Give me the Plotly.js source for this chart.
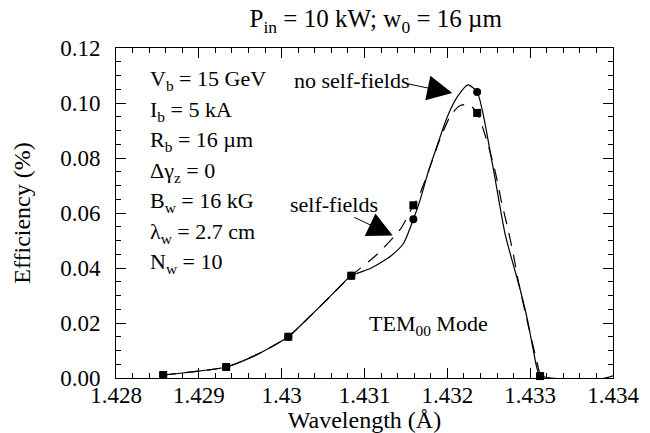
<!DOCTYPE html>
<html>
<head>
<meta charset="utf-8">
<script src="https://cdn.plot.ly/plotly-3.0.1.min.js"></script>
<style>
  html, body { margin: 0; padding: 0; background: #fff; }
  #chart { width: 650px; height: 433px; }
</style>
</head>
<body>
<div id="chart"></div>
<script>
// Computed efficiency vs. wavelength, TEM00 mode
// Smooth model curves
const curveNoSelfX = [1.42857, 1.42933, 1.42970, 1.43008, 1.43030, 1.43057, 1.43084,
  1.43107, 1.43131, 1.43147, 1.43159, 1.43167, 1.43177, 1.43186, 1.43200, 1.43212, 1.43225,
  1.43236, 1.43244, 1.43252, 1.43258, 1.43270, 1.43288, 1.43297, 1.43304, 1.43312, 1.43386, 1.43400];
const curveNoSelfY = [0.0011, 0.0040, 0.0085, 0.0150, 0.0212, 0.0292, 0.0372,
  0.0398, 0.0442, 0.0489, 0.0577, 0.0646, 0.0750, 0.0830, 0.0950, 0.1022, 0.1066,
  0.1040, 0.0949, 0.0818, 0.0719, 0.0520, 0.0321, 0.0208, 0.0099, 0.0010, -0.0003, 0.0008];

const curveSelfX = [1.42857, 1.42933, 1.42970, 1.43008, 1.43030, 1.43057, 1.43084,
  1.43115, 1.43144, 1.43159, 1.43165, 1.43177, 1.43190, 1.43204, 1.43215, 1.43226,
  1.43236, 1.43248, 1.43258, 1.43265, 1.43273, 1.43280, 1.43286, 1.43297, 1.43312];
const curveSelfY = [0.0011, 0.0040, 0.0085, 0.0150, 0.0212, 0.0292, 0.0372,
  0.0449, 0.0544, 0.0628, 0.0657, 0.0750, 0.0860, 0.0955, 0.0990, 0.0995,
  0.0964, 0.0860, 0.0748, 0.0646, 0.0544, 0.0445, 0.0347, 0.0200, 0.0010];

// Simulation points
const pointsSelfX = [1.42857, 1.42933, 1.43008, 1.43084, 1.43159, 1.43236, 1.43312, 1.43386];
const pointsSelfY = [0.0011, 0.0040, 0.0150, 0.0372, 0.0628, 0.0964, 0.0007, -0.0003];

const pointsNoSelfX = [1.42857, 1.42933, 1.43008, 1.43084, 1.43159, 1.43236, 1.43312];
const pointsNoSelfY = [0.0011, 0.0040, 0.0150, 0.0372, 0.0577, 0.1040, 0.0007];

const paramLabels = [
  'V<sub>b</sub> = 15 GeV',
  'I<sub>b</sub> = 5 kA',
  'R<sub>b</sub> = 16 \u00b5m',
  '\u0394\u03b3<sub>z</sub> = 0',
  'B<sub>w</sub> = 16 kG',
  '\u03bb<sub>w</sub> = 2.7 cm',
  'N<sub>w</sub> = 10'
];

const serif = 'Liberation Serif';
const ink = '#000';

const traces = [
  {
    x: curveNoSelfX, y: curveNoSelfY, mode: 'lines', type: 'scatter',
    line: { color: ink, width: 1.2, shape: 'spline', smoothing: 0.6 },
    hoverinfo: 'skip'
  },
  {
    x: curveSelfX, y: curveSelfY, mode: 'lines', type: 'scatter',
    line: { color: ink, width: 1.2, dash: '13px,9px', shape: 'spline', smoothing: 0.6 },
    hoverinfo: 'skip'
  },
  {
    x: pointsNoSelfX, y: pointsNoSelfY, mode: 'markers', type: 'scatter',
    marker: { symbol: 'circle', size: 8, color: ink },
    cliponaxis: false
  },
  {
    x: pointsSelfX, y: pointsSelfY, mode: 'markers', type: 'scatter',
    marker: { symbol: 'square', size: 8, color: ink },
    cliponaxis: false
  }
];

const textFont = { family: serif, size: 22, color: ink };

const annotations = paramLabels.map((t, i) => ({
  text: t, xref: 'paper', yref: 'paper',
  x: 0.064, y: 0.903 - i * 0.0925,
  xanchor: 'left', yanchor: 'middle', showarrow: false,
  font: textFont
}));

annotations.push(
  {
    text: 'no self-fields', xref: 'paper', yref: 'paper',
    x: 0.354, y: 0.903, xanchor: 'left', yanchor: 'middle', showarrow: false,
    font: textFont
  },
  {
    text: '', xref: 'x', yref: 'y', x: 1.43206, y: 0.1036,
    showarrow: true, ax: -48, ay: -10, arrowhead: 2, arrowsize: 5, arrowwidth: 1,
    arrowcolor: ink, standoff: 0
  },
  {
    text: 'self-fields', xref: 'paper', yref: 'paper',
    x: 0.346, y: 0.527, xanchor: 'left', yanchor: 'middle', showarrow: false,
    font: textFont
  },
  {
    text: '', xref: 'x', yref: 'y', x: 1.43134, y: 0.0518,
    showarrow: true, ax: -40, ay: -19, arrowhead: 2, arrowsize: 5, arrowwidth: 1,
    arrowcolor: ink, standoff: 0
  },
  {
    text: 'TEM<sub>00</sub> Mode', xref: 'paper', yref: 'paper',
    x: 0.628, y: 0.161, xanchor: 'center', yanchor: 'middle', showarrow: false,
    font: textFont
  }
);

const axisCommon = {
  showgrid: false, zeroline: false, showline: true, linecolor: ink, linewidth: 1,
  mirror: 'allticks', ticks: 'inside', tickcolor: ink, tickwidth: 1, ticklen: 10,
  tickmode: 'linear',
  tickfont: { family: serif, size: 23, color: ink }
};

const layout = {
  width: 650, height: 433,
  margin: { l: 116, r: 37, t: 48, b: 55 },
  paper_bgcolor: '#fff', plot_bgcolor: '#fff',
  font: { family: serif, size: 22, color: ink },
  showlegend: false,
  title: {
    text: 'P<sub>in</sub> = 10 kW; w<sub>0</sub> = 16 \u00b5m',
    font: { family: serif, size: 25, color: ink },
    x: 0.578, xref: 'container', xanchor: 'center',
    y: 0.957, yref: 'container', yanchor: 'middle'
  },
  xaxis: Object.assign({}, axisCommon, {
    range: [1.428, 1.434], tick0: 1.428, dtick: 0.001, ticklabelstandoff: -4,
    minor: { dtick: 0.0002, ticks: 'inside', ticklen: 5, tickcolor: ink, tickwidth: 1 },
    title: { text: 'Wavelength (\u00c5)', font: { family: serif, size: 24, color: ink }, standoff: 10 }
  }),
  yaxis: Object.assign({}, axisCommon, {
    range: [0, 0.12], tick0: 0, dtick: 0.02, tickformat: '.2f', ticklabelstandoff: 10,
    minor: { dtick: 0.005, ticks: 'inside', ticklen: 5, tickcolor: ink, tickwidth: 1 },
    title: { text: 'Efficiency (%)', font: { family: serif, size: 24, color: ink }, standoff: 22 }
  }),
  annotations: annotations
};

Plotly.newPlot('chart', traces, layout, { displayModeBar: false, staticPlot: true });
</script>
</body>
</html>
